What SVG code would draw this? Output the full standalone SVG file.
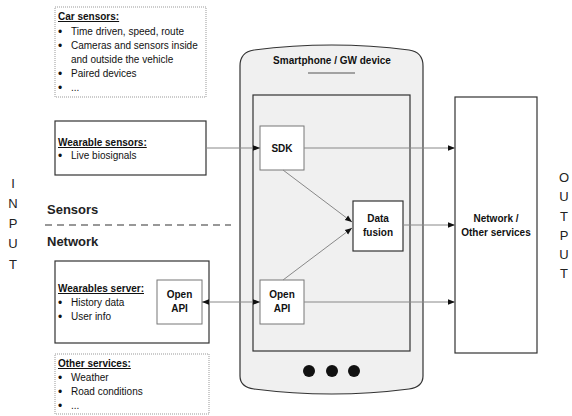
<svg xmlns="http://www.w3.org/2000/svg" width="572" height="416" viewBox="0 0 572 416">
<defs>
<style>
text{font-family:"Liberation Sans",Arial,sans-serif;fill:#111}
.t{font-size:10px}
.bu{font-size:12px}
.h{font-size:10px;font-weight:bold;text-decoration:underline}
.b{font-size:10px;font-weight:bold}
.big{font-size:13px;font-weight:bold;fill:#222}
.lbl{font-size:13px;fill:#222}
.dot{stroke:#999;stroke-width:1;stroke-dasharray:1,1;fill:#fff}
.box{stroke:#333;stroke-width:1.2;fill:#fff}
.inner{stroke:#777;stroke-width:1;fill:#fff}
.ln{stroke:#888;stroke-width:1;fill:none}
</style>
<marker id="ah" viewBox="0 0 10 10" refX="10" refY="5" markerWidth="7" markerHeight="7" orient="auto-start-reverse" markerUnits="userSpaceOnUse"><path d="M0,1 L10,5 L0,9 Z" fill="#111"/></marker>
</defs>
<rect width="572" height="416" fill="#fff"/>

<g id="input-label" fill="#222">
<text class="lbl" x="13" y="188" text-anchor="middle" fill="#222">I</text>
<text class="lbl" x="13" y="208" text-anchor="middle" fill="#222">N</text>
<text class="lbl" x="13" y="228" text-anchor="middle" fill="#222">P</text>
<text class="lbl" x="13" y="248" text-anchor="middle" fill="#222">U</text>
<text class="lbl" x="13" y="269" text-anchor="middle" fill="#222">T</text>
</g>
<g id="output-label" fill="#222">
<text class="lbl" x="564" y="182" text-anchor="middle" fill="#222">O</text>
<text class="lbl" x="564" y="201" text-anchor="middle" fill="#222">U</text>
<text class="lbl" x="564" y="221" text-anchor="middle" fill="#222">T</text>
<text class="lbl" x="564" y="240" text-anchor="middle" fill="#222">P</text>
<text class="lbl" x="564" y="259" text-anchor="middle" fill="#222">U</text>
<text class="lbl" x="564" y="278" text-anchor="middle" fill="#222">T</text>
</g>

<g id="car-sensors">
<rect class="dot" x="55" y="7" width="151" height="90"/>
<text class="h" x="58" y="20">Car sensors:</text>
<text class="bu" x="58" y="35.5">•</text><text class="t" x="71" y="35">Time driven, speed, route</text>
<text class="bu" x="58" y="49.5">•</text><text class="t" x="71" y="49">Cameras and sensors inside</text>
<text class="t" x="71" y="63">and outside the vehicle</text>
<text class="bu" x="58" y="77.5">•</text><text class="t" x="71" y="77">Paired devices</text>
<text class="bu" x="58" y="91.5">•</text><text class="t" x="71" y="91">...</text>
</g>

<g id="wearable-sensors">
<rect class="box" x="55" y="121" width="151" height="54"/>
<text class="h" x="58" y="146">Wearable sensors:</text>
<text class="bu" x="58" y="159.5">•</text><text class="t" x="71" y="159">Live biosignals</text>
</g>

<g id="sep">
<text class="big" x="47" y="214">Sensors</text>
<line x1="45" y1="225" x2="231" y2="225" stroke="#333" stroke-width="1.2" stroke-dasharray="7,5"/>
<text class="big" x="47" y="246">Network</text>
</g>

<g id="wearables-server">
<rect class="box" x="55" y="261" width="154" height="82"/>
<text class="h" x="58" y="292">Wearables server:</text>
<text class="bu" x="58" y="306.5">•</text><text class="t" x="71" y="306">History data</text>
<text class="bu" x="58" y="320.5">•</text><text class="t" x="71" y="320">User info</text>
</g>
<g id="open-api-server">
<rect class="inner" x="157" y="280" width="45" height="44"/>
<text class="b" x="179.5" y="298" text-anchor="middle">Open</text>
<text class="b" x="179.5" y="312" text-anchor="middle">API</text>
</g>

<g id="other-services">
<rect class="dot" x="55" y="354" width="154" height="60"/>
<text class="h" x="58" y="367">Other services:</text>
<text class="bu" x="58" y="381.5">•</text><text class="t" x="71" y="381">Weather</text>
<text class="bu" x="58" y="395.5">•</text><text class="t" x="71" y="395">Road conditions</text>
<text class="bu" x="58" y="409.5">•</text><text class="t" x="71" y="409">...</text>
</g>

<g id="phone">
<path d="M240,66 Q240,52 254,50 Q332,40 409,50 Q423,52 423,66 L423,376 Q423,387 409,389 Q332,399 254,389 Q240,387 240,376 Z" fill="#f0f0f0" stroke="#333" stroke-width="1.2"/>
<text class="b" x="332" y="64" text-anchor="middle">Smartphone / GW device</text>
<line x1="308" y1="73" x2="355" y2="73" stroke="#555" stroke-width="1.2"/>
<rect x="253" y="95" width="157" height="256" fill="#f0f0f0" stroke="#333" stroke-width="1.2"/>
<circle cx="309" cy="371" r="6" fill="#111"/>
<circle cx="332" cy="371" r="6" fill="#111"/>
<circle cx="354" cy="371" r="6" fill="#111"/>
</g>

<g id="sdk">
<rect class="inner" x="260" y="126" width="44" height="44"/>
<text class="b" x="282" y="152" text-anchor="middle">SDK</text>
</g>
<g id="open-api-phone">
<rect class="inner" x="260" y="280" width="44" height="44"/>
<text class="b" x="282" y="298" text-anchor="middle">Open</text>
<text class="b" x="282" y="312" text-anchor="middle">API</text>
</g>
<g id="data-fusion">
<rect class="box" x="353" y="201" width="50" height="50"/>
<text class="b" x="378" y="222" text-anchor="middle">Data</text>
<text class="b" x="378" y="236" text-anchor="middle">fusion</text>
</g>

<g id="network">
<rect class="box" x="455" y="97" width="82" height="256"/>
<text class="b" x="496" y="222" text-anchor="middle">Network /</text>
<text class="b" x="496" y="236" text-anchor="middle">Other services</text>
</g>

<g id="connectors">
<line class="ln" x1="206" y1="148" x2="260" y2="148" marker-end="url(#ah)"/>
<line class="ln" x1="304" y1="148" x2="455" y2="148" marker-end="url(#ah)"/>
<line class="ln" x1="403" y1="225" x2="455" y2="225" marker-end="url(#ah)"/>
<line class="ln" x1="304" y1="302" x2="455" y2="302" marker-end="url(#ah)"/>
<line class="ln" x1="202" y1="302" x2="260" y2="302" marker-start="url(#ah)" marker-end="url(#ah)"/>
<line class="ln" x1="283" y1="170" x2="352" y2="222" marker-end="url(#ah)"/>
<line class="ln" x1="283" y1="280" x2="352" y2="228" marker-end="url(#ah)"/>
</g>
</svg>
